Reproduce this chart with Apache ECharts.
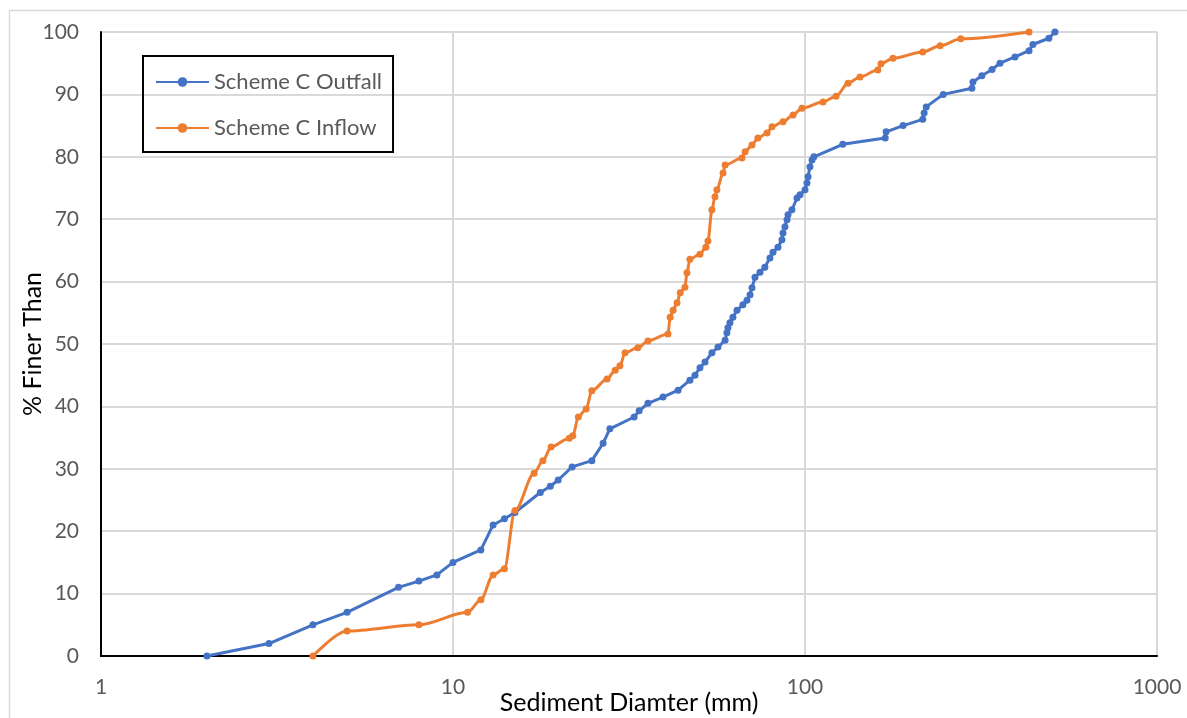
<!DOCTYPE html>
<html>
<head>
<meta charset="utf-8">
<script src="https://cdn.jsdelivr.net/npm/echarts@6/dist/echarts.min.js"></script>
<style>
html,body{margin:0;padding:0;background:#fff;overflow:hidden;}
#chart{width:1187px;height:718px;}
</style>
</head>
<body>
<div id="chart"></div>
<script>
var seriesNames = ['Scheme C Outfall', 'Scheme C Inflow'];
var xTickLabels = ['1', '10', '100', '1000'];
var yTickLabels = ['0','10','20','30','40','50','60','70','80','90','100'];

var outfallDiam = [2,3,4,5,7,8,9,10,12,13,14,15,17.7,18.9,19.9,21.8,24.8,26.7,27.9,32.7,33.8,35.8,39.5,43.6,47.1,48.7,50.3,52,54.4,56.6,59.3,60,60.4,61.2,62.4,64.1,66.6,68.4,69.8,70.7,72.1,74.5,76.9,79.5,81.1,83.8,86,86.6,87.7,88.9,89.5,91.8,94.9,96.8,100,101.3,102,103.3,104.7,106,128,169,170,190,216,218,221,247,298,300,318,340,358,395,433,444,493,513];
var outfallFiner = [0,2,5,7,11,12,13,15,17,21,22,23,26.2,27.2,28.2,30.3,31.3,34.1,36.4,38.3,39.3,40.5,41.5,42.6,44.2,45,46.2,47.1,48.6,49.5,50.6,51.8,52.6,53.4,54.3,55.4,56.3,57,57.9,59,60.7,61.5,62.3,63.8,64.7,65.5,66.7,67.8,68.8,69.9,70.7,71.5,73.4,73.9,74.7,75.8,76.8,78.4,79.5,80,82,83,84,85,86,87,88,90,91,92,93,94,95,96,97,98,99,100];

var inflowDiam = [4,5,8,11,12,13,14,15,17,18,19,21.4,21.9,22.7,23.9,24.8,27.4,28.9,29.8,30.8,33.5,35.8,40.8,41.4,42.2,43.3,44.2,45.6,46.2,47.1,50.3,52.3,53,54.4,55.5,56.2,58.5,59.3,66.2,67.6,70.7,73.5,78,80.6,86.6,92.5,98,112.5,122.5,132.5,143.3,161,164.4,177.8,216,242,277,433];
var inflowFiner = [0,4,5,7,9,13,14,23.3,29.3,31.3,33.5,34.9,35.3,38.3,39.6,42.5,44.4,45.8,46.5,48.6,49.4,50.5,51.6,54.3,55.4,56.6,58.2,59.1,61.4,63.6,64.4,65.5,66.5,71.5,73.6,74.7,77.4,78.7,79.8,80.8,81.9,83,83.8,84.8,85.6,86.7,87.8,88.8,89.7,91.8,92.8,93.9,94.9,95.8,96.8,97.8,98.9,100];

function pairs(xs, ys){ return xs.map(function(v,i){ return [v, ys[i]]; }); }

var chart = echarts.init(document.getElementById('chart'));
var fontFam = 'Lato, "Liberation Sans", sans-serif';
chart.setOption({
  backgroundColor: '#fff',
  animation: false,
  graphic: [{
    type: 'rect',
    shape: {x: 9.5, y: 10.5, width: 1200, height: 720},
    style: {fill: 'none', stroke: '#d9d9d9', lineWidth: 1.5},
    silent: true, z: -10
  }],
  grid: {left: 101, top: 32, width: 1056, height: 624, containLabel: false, outerBoundsMode: 'none'},
  legend: {
    orient: 'vertical',
    left: 143, top: 56,
    data: seriesNames,
    itemWidth: 53, itemHeight: 12, itemGap: 24,
    borderColor: '#000', borderWidth: 2,
    padding: [15, 11, 13, 12],
    textStyle: {color: '#595959', fontSize: 22, fontFamily: fontFam, lineHeight: 22}
  },
  xAxis: {
    type: 'log', logBase: 10, min: 1, max: 1000,
    name: 'Sediment Diamter (mm)', nameLocation: 'middle', nameGap: 34, nameMoveOverlap: false,
    nameTextStyle: {color: '#000', fontSize: 25, fontFamily: fontFam},
    axisLine: {lineStyle: {color: '#000', width: 2}},
    axisTick: {show: false},
    splitLine: {show: true, lineStyle: {color: '#d9d9d9', width: 2}},
    minorTick: {show: false},
    axisLabel: {color: '#595959', fontSize: 21, fontFamily: fontFam, margin: 21,
      formatter: function(v){ var s = String(Math.round(v)); return xTickLabels.indexOf(s) >= 0 ? s : ''; }}
  },
  yAxis: {
    type: 'value', min: 0, max: 100, interval: 10,
    name: '% Finer Than', nameLocation: 'middle', nameGap: 56, nameRotate: 90, nameMoveOverlap: false,
    nameTextStyle: {color: '#000', fontSize: 25, fontFamily: fontFam},
    axisLine: {show: true, lineStyle: {color: '#000', width: 2}},
    axisTick: {show: false},
    splitLine: {show: true, lineStyle: {color: '#d9d9d9', width: 2}},
    axisLabel: {color: '#595959', fontSize: 21, fontFamily: fontFam, margin: 22,
      formatter: function(v){ var s = String(v); return yTickLabels.indexOf(s) >= 0 ? s : ''; }}
  },
  series: [{
    name: seriesNames[0], type: 'line',
    data: pairs(outfallDiam, outfallFiner),
    color: '#4472C4',
    symbol: 'circle', symbolSize: 7,
    lineStyle: {width: 3, color: '#4472C4'},
    itemStyle: {color: '#4472C4'}
  }, {
    name: seriesNames[1], type: 'line',
    data: pairs(inflowDiam, inflowFiner),
    color: '#ED7D31',
    symbol: 'circle', symbolSize: 7,
    smooth: 0.3, smoothMonotone: 'x',
    lineStyle: {width: 3, color: '#ED7D31'},
    itemStyle: {color: '#ED7D31'}
  }]
});
</script>
</body>
</html>
